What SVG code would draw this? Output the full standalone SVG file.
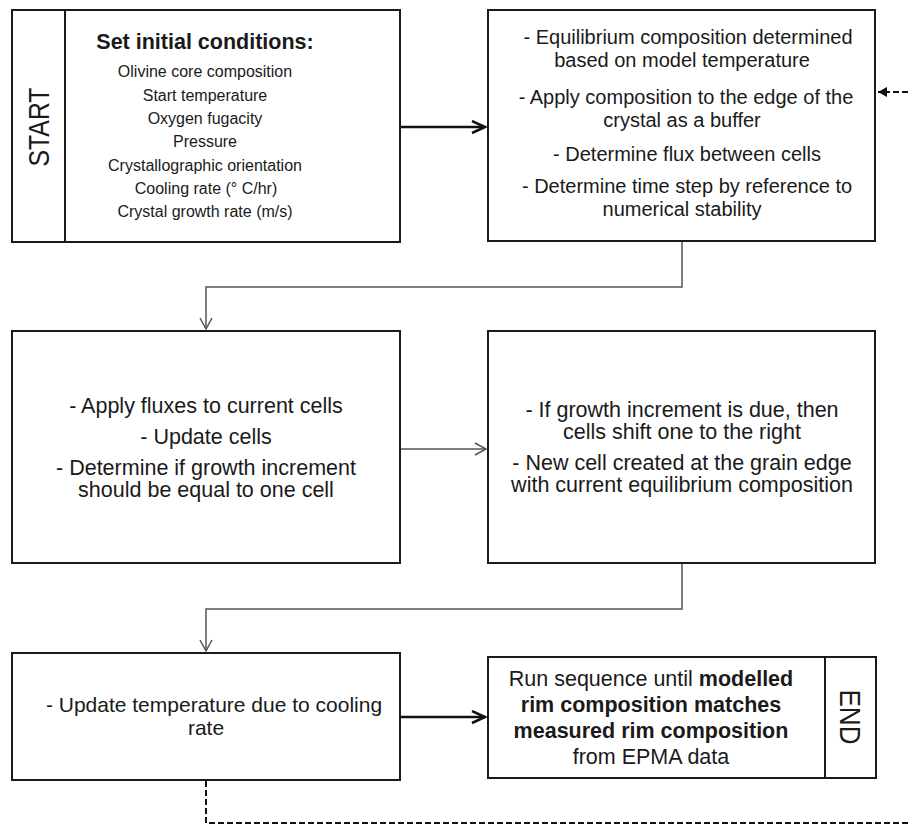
<svg xmlns="http://www.w3.org/2000/svg" width="908" height="824" viewBox="0 0 908 824">
<defs>
<style>
.box{fill:#fff;stroke:#1a1a1a;stroke-width:2}
.t{font-family:"Liberation Sans",Arial,sans-serif;fill:#1a1a1a;text-anchor:middle}
.s16{font-size:16px}
.s20{font-size:20px}
.s21{font-size:21.5px}
.b{font-weight:bold}
.thick{fill:none;stroke:#111;stroke-width:2.5}
.thin{fill:none;stroke:#555;stroke-width:1.5}
.dash{fill:none;stroke:#111;stroke-width:2;stroke-dasharray:6 3}
</style>
<marker id="hBold" markerUnits="userSpaceOnUse" markerWidth="16" markerHeight="16" refX="14" refY="7" orient="auto">
<path d="M1,1 L14,7 L1,13" fill="none" stroke="#111" stroke-width="2.5"/>
</marker>
<marker id="hThin" markerUnits="userSpaceOnUse" markerWidth="16" markerHeight="16" refX="12" refY="7" orient="auto">
<path d="M1,1 L12,7 L1,13" fill="none" stroke="#555" stroke-width="1.5"/>
</marker>
<marker id="hFill" markerUnits="userSpaceOnUse" markerWidth="12" markerHeight="12" refX="9" refY="5" orient="auto">
<path d="M0,0 L9,5 L0,10 Z" fill="#111"/>
</marker>
</defs>
<rect width="908" height="824" fill="#fff"/>

<g id="start">
<rect class="box" x="12" y="10" width="388" height="232"/>
<line x1="65" y1="10" x2="65" y2="242" stroke="#1a1a1a" stroke-width="2"/>
<text class="t" font-size="30" transform="translate(49,127) rotate(-90)" textLength="79" lengthAdjust="spacingAndGlyphs">START</text>
<text class="t s21 b" x="205" y="49">Set initial conditions:</text>
<text class="t s16" x="205" y="77">Olivine core composition</text>
<text class="t s16" x="205" y="100.5">Start temperature</text>
<text class="t s16" x="205" y="124">Oxygen fugacity</text>
<text class="t s16" x="205" y="147">Pressure</text>
<text class="t s16" x="205" y="171">Crystallographic orientation</text>
<text class="t s16" x="206" y="194">Cooling rate (° C/hr)</text>
<text class="t s16" x="205" y="217">Crystal growth rate (m/s)</text>
</g>

<g id="equilibrium">
<rect class="box" x="488" y="10" width="387" height="231"/>
<text class="t s20" x="688" y="44">- Equilibrium composition determined</text>
<text class="t s20" x="682" y="67">based on model temperature</text>
<text class="t s20" x="686" y="104">- Apply composition to the edge of the</text>
<text class="t s20" x="682" y="127">crystal as a buffer</text>
<text class="t s20" x="687" y="161">- Determine flux between cells</text>
<text class="t s20" x="687" y="193">- Determine time step by reference to</text>
<text class="t s20" x="682" y="216">numerical stability</text>
</g>

<g id="fluxes">
<rect class="box" x="12" y="331" width="388" height="232"/>
<text class="t s21" x="206" y="413">- Apply fluxes to current cells</text>
<text class="t s21" x="206" y="444">- Update cells</text>
<text class="t s21" x="206" y="475">- Determine if growth increment</text>
<text class="t s21" x="206" y="497">should be equal to one cell</text>
</g>

<g id="growth">
<rect class="box" x="488" y="331" width="387" height="232"/>
<text class="t s21" x="682" y="417">- If growth increment is due, then</text>
<text class="t s21" x="682" y="439">cells shift one to the right</text>
<text class="t s21" x="682" y="470">- New cell created at the grain edge</text>
<text class="t s21" x="682" y="492">with current equilibrium composition</text>
</g>

<g id="temperature">
<rect class="box" x="12" y="653" width="388" height="127"/>
<text class="t" font-size="21" x="214" y="712">- Update temperature due to cooling</text>
<text class="t" font-size="21" x="206" y="735">rate</text>
</g>

<g id="end">
<rect class="box" x="488" y="657" width="388" height="121"/>
<line x1="825" y1="657" x2="825" y2="778" stroke="#1a1a1a" stroke-width="2"/>
<text class="t" font-size="29" transform="translate(840,717) rotate(90)" textLength="55" lengthAdjust="spacingAndGlyphs">END</text>
<text class="t s21" x="651" y="686">Run sequence until <tspan class="b">modelled</tspan></text>
<text class="t s21 b" x="651" y="712">rim composition matches</text>
<text class="t s21 b" x="651" y="738">measured rim composition</text>
<text class="t s21" x="651" y="764">from EPMA data</text>
</g>

<g id="connectors">
<line class="thick" x1="401" y1="127" x2="485" y2="127" marker-end="url(#hBold)"/>
<polyline class="thin" points="682,242 682,287 206,287 206,329" marker-end="url(#hThin)"/>
<line class="thin" x1="401" y1="449" x2="486" y2="449" marker-end="url(#hThin)"/>
<polyline class="thin" points="682,564 682,609 206,609 206,651" marker-end="url(#hThin)"/>
<line class="thick" x1="401" y1="717" x2="485" y2="717" marker-end="url(#hBold)"/>
<polyline class="dash" points="206,781 206,823 908,823"/>
<line class="dash" x1="908" y1="92" x2="878" y2="92" marker-end="url(#hFill)"/>
</g>
</svg>
